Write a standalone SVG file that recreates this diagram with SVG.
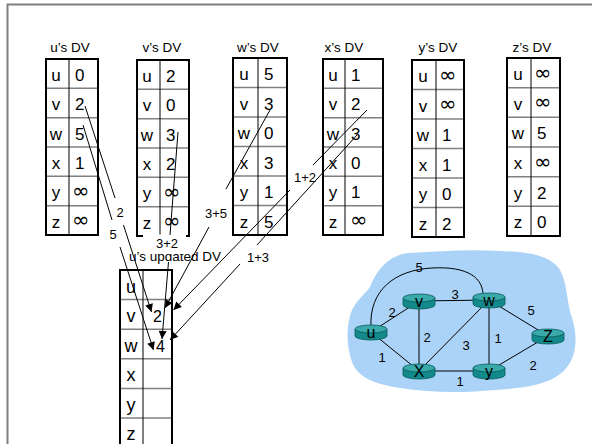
<svg xmlns="http://www.w3.org/2000/svg" xmlns:xlink="http://www.w3.org/1999/xlink" width="592" height="444" viewBox="0 0 592 444">
<style>
text{font-family:"Liberation Sans",Arial,sans-serif;fill:#000}
.title{font-size:13.5px;text-anchor:middle}
.cell{font-size:17px}
.key{text-anchor:middle}
.inf{font-family:"DejaVu Sans",sans-serif;font-size:21px}
.ucell{font-size:18px}
.lbl{font-size:13px;text-anchor:middle}
.elbl{font-size:13px;text-anchor:middle}
.nlbl{font-size:16px;text-anchor:middle}
.outer{fill:none;stroke:#000;stroke-width:2}
.rowline{stroke:#808080;stroke-width:1.5}
.colline{stroke:#000;stroke-width:1}
.conn{stroke:#000;stroke-width:1;fill:none}
.edge{stroke:#000;stroke-width:1;fill:none}
</style>
<defs>
<marker id="ah" viewBox="0 0 10 10" refX="10" refY="5" markerWidth="10" markerHeight="8" markerUnits="userSpaceOnUse" orient="auto"><path d="M0,0 L10,5 L0,10 z" fill="#000"/></marker>
<g id="cyl">
<path d="M-16,-3 v7 a16,4 0 0 0 32,0 v-7 z" fill="#12898a" stroke="#0a5a5a" stroke-width="0.8"/>
<ellipse cx="0" cy="-3" rx="16" ry="4" fill="#3aa9aa" stroke="#0a5a5a" stroke-width="0.8"/>
</g>
</defs>
<rect width="592" height="444" fill="#fff"/>
<path d="M7.5,444 V4.5 H592" fill="none" stroke="#7f7f7f" stroke-width="2"/>

<g id="table-u">
<text class="title" x="70" y="52">u’s DV</text>
<line class="rowline" x1="46" y1="88.3" x2="98" y2="88.3"/><line class="rowline" x1="46" y1="117.7" x2="98" y2="117.7"/><line class="rowline" x1="46" y1="147" x2="98" y2="147"/><line class="rowline" x1="46" y1="176.3" x2="98" y2="176.3"/><line class="rowline" x1="46" y1="205.7" x2="98" y2="205.7"/>
<line class="colline" x1="69" y1="59" x2="69" y2="235"/>
<rect class="outer" x="46" y="59" width="52" height="176"/>
<g class="cell"><text class="key" x="56" y="81">u</text><text class="key" x="56" y="110.3">v</text><text class="key" x="56" y="139.7">w</text><text class="key" x="56" y="169">x</text><text class="key" x="56" y="198.3">y</text><text class="key" x="56" y="227.7">z</text>
<text x="75" y="81">0</text><text x="75" y="110.3">2</text><text x="75" y="139.7">5</text><text x="75" y="169">1</text><text class="inf" x="72" y="198">∞</text><text class="inf" x="72" y="227.3">∞</text></g>
</g>

<g id="table-v">
<text class="title" x="162" y="52">v’s DV</text>
<line class="rowline" x1="137" y1="89.3" x2="189" y2="89.3"/><line class="rowline" x1="137" y1="118.7" x2="189" y2="118.7"/><line class="rowline" x1="137" y1="148" x2="189" y2="148"/><line class="rowline" x1="137" y1="177.3" x2="189" y2="177.3"/><line class="rowline" x1="137" y1="206.7" x2="189" y2="206.7"/>
<line class="colline" x1="160" y1="60" x2="160" y2="236"/>
<rect class="outer" x="137" y="60" width="52" height="176"/>
<g class="cell"><text class="key" x="147" y="82">u</text><text class="key" x="147" y="111.3">v</text><text class="key" x="147" y="140.7">w</text><text class="key" x="147" y="170">x</text><text class="key" x="147" y="199.3">y</text><text class="key" x="147" y="228.7">z</text>
<text x="166" y="82">2</text><text x="166" y="111.3">0</text><text x="166" y="140.7">3</text><text x="166" y="170">2</text><text class="inf" x="163" y="199">∞</text><text class="inf" x="163" y="228.3">∞</text></g>
</g>

<g id="table-w">
<text class="title" x="258" y="52">w’s DV</text>
<line class="rowline" x1="233" y1="87.5" x2="287" y2="87.5"/><line class="rowline" x1="233" y1="117" x2="287" y2="117"/><line class="rowline" x1="233" y1="146.5" x2="287" y2="146.5"/><line class="rowline" x1="233" y1="176" x2="287" y2="176"/><line class="rowline" x1="233" y1="205.5" x2="287" y2="205.5"/>
<line class="colline" x1="258" y1="58" x2="258" y2="235"/>
<rect class="outer" x="233" y="58" width="54" height="177"/>
<g class="cell"><text class="key" x="244" y="80">u</text><text class="key" x="244" y="109.5">v</text><text class="key" x="244" y="139">w</text><text class="key" x="244" y="168.5">x</text><text class="key" x="244" y="198">y</text><text class="key" x="244" y="227.5">z</text>
<text x="264" y="80">5</text><text x="264" y="109.5">3</text><text x="264" y="139">0</text><text x="264" y="168.5">3</text><text x="264" y="198">1</text><text x="264" y="227.5">5</text></g>
</g>

<g id="table-x">
<text class="title" x="344" y="52">x’s DV</text>
<line class="rowline" x1="323" y1="88.3" x2="383" y2="88.3"/><line class="rowline" x1="323" y1="117.7" x2="383" y2="117.7"/><line class="rowline" x1="323" y1="147" x2="383" y2="147"/><line class="rowline" x1="323" y1="176.3" x2="383" y2="176.3"/><line class="rowline" x1="323" y1="205.7" x2="383" y2="205.7"/>
<line class="colline" x1="345" y1="59" x2="345" y2="235"/>
<rect class="outer" x="323" y="59" width="60" height="176"/>
<g class="cell"><text class="key" x="333" y="81">u</text><text class="key" x="333" y="110.3">v</text><text class="key" x="333" y="139.7">w</text><text class="key" x="333" y="169">x</text><text class="key" x="333" y="198.3">y</text><text class="key" x="333" y="227.7">z</text>
<text x="351" y="81">1</text><text x="351" y="110.3">2</text><text x="351" y="139.7">3</text><text x="351" y="169">0</text><text x="351" y="198.3">1</text><text class="inf" x="350" y="227.3">∞</text></g>
</g>

<g id="table-y">
<text class="title" x="438" y="52">y’s DV</text>
<line class="rowline" x1="412" y1="89.5" x2="464" y2="89.5"/><line class="rowline" x1="412" y1="119" x2="464" y2="119"/><line class="rowline" x1="412" y1="148.5" x2="464" y2="148.5"/><line class="rowline" x1="412" y1="178" x2="464" y2="178"/><line class="rowline" x1="412" y1="207.5" x2="464" y2="207.5"/>
<line class="colline" x1="436" y1="60" x2="436" y2="237"/>
<rect class="outer" x="412" y="60" width="52" height="177"/>
<g class="cell"><text class="key" x="423" y="82">u</text><text class="key" x="423" y="111.5">v</text><text class="key" x="423" y="141">w</text><text class="key" x="423" y="170.5">x</text><text class="key" x="423" y="200">y</text><text class="key" x="423" y="229.5">z</text>
<text class="inf" x="439" y="81.5">∞</text><text class="inf" x="439" y="111">∞</text><text x="442" y="141">1</text><text x="442" y="170.5">1</text><text x="442" y="200">0</text><text x="442" y="229.5">2</text></g>
</g>

<g id="table-z">
<text class="title" x="532" y="52">z’s DV</text>
<line class="rowline" x1="507" y1="87.7" x2="560" y2="87.7"/><line class="rowline" x1="507" y1="117.3" x2="560" y2="117.3"/><line class="rowline" x1="507" y1="147" x2="560" y2="147"/><line class="rowline" x1="507" y1="176.7" x2="560" y2="176.7"/><line class="rowline" x1="507" y1="206.3" x2="560" y2="206.3"/>
<line class="colline" x1="531" y1="58" x2="531" y2="236"/>
<rect class="outer" x="507" y="58" width="53" height="178"/>
<g class="cell"><text class="key" x="518" y="80">u</text><text class="key" x="518" y="109.7">v</text><text class="key" x="518" y="139.3">w</text><text class="key" x="518" y="169">x</text><text class="key" x="518" y="198.7">y</text><text class="key" x="518" y="228.3">z</text>
<text class="inf" x="534" y="79.5">∞</text><text class="inf" x="534" y="109.2">∞</text><text x="537" y="139.3">5</text><text class="inf" x="534" y="168.5">∞</text><text x="537" y="198.7">2</text><text x="537" y="228.3">0</text></g>
</g>

<g id="table-u-updated">
<text class="title" x="175" y="260.5">u’s updated DV</text>
<line class="rowline" x1="120" y1="299.6" x2="172" y2="299.6"/><line class="rowline" x1="120" y1="329.2" x2="172" y2="329.2"/><line class="rowline" x1="120" y1="358.8" x2="172" y2="358.8"/><line class="rowline" x1="120" y1="388.4" x2="172" y2="388.4"/><line class="rowline" x1="120" y1="418" x2="172" y2="418"/>
<line class="colline" x1="143" y1="270" x2="143" y2="446"/>
<rect class="outer" x="120" y="270" width="52" height="178"/>
<g class="ucell"><text class="key" x="131" y="292.5">u</text><text class="key" x="131" y="322">v</text><text class="key" x="131" y="351.5">w</text><text class="key" x="131" y="381">x</text><text class="key" x="131" y="410.5">y</text><text class="key" x="131" y="440">z</text></g>
<g style="font-size:16px"><text x="153" y="322">2</text><text x="156" y="351.5">4</text></g>
</g>

<rect x="143" y="234.5" width="43" height="19.5" fill="#fff"/>

<g id="connectors">
<line class="conn" x1="85" y1="106" x2="115" y2="198"/>
<line class="conn" x1="123.5" y1="225" x2="151.5" y2="312" marker-end="url(#ah)"/>
<line class="conn" x1="83" y1="125" x2="112" y2="220"/>
<line class="conn" x1="120" y1="247" x2="153.5" y2="350" marker-end="url(#ah)"/>
<line class="conn" x1="178" y1="132" x2="170" y2="235"/>
<line class="conn" x1="168.5" y1="262" x2="162" y2="339" marker-end="url(#ah)"/>
<line class="conn" x1="270" y1="110" x2="226" y2="189"/>
<line class="conn" x1="209" y1="227" x2="165" y2="308" marker-end="url(#ah)"/>
<line class="conn" x1="367" y1="110" x2="313" y2="165"/>
<line class="conn" x1="290" y1="190" x2="173.5" y2="310" marker-end="url(#ah)"/>
<line class="conn" x1="357" y1="135" x2="257" y2="245"/>
<line class="conn" x1="240" y1="264" x2="170" y2="340" marker-end="url(#ah)"/>
<text class="lbl" x="120" y="216.5">2</text>
<text class="lbl" x="113" y="239">5</text>
<text class="lbl" x="167" y="248">3+2</text>
<text class="lbl" x="216" y="217.5">3+5</text>
<text class="lbl" x="305" y="181.5">1+2</text>
<text class="lbl" x="258" y="261.5">1+3</text>
</g>

<g id="network">
<path d="M370,287 C378,266 392,254 410,253 C440,251 470,249 500,251 C525,252 550,254 560,270 C568,285 566,300 572,318 C579,340 576,362 560,374 C545,386 520,388 495,390 C465,393 430,393 400,388 C375,384 358,378 352,362 C346,345 346,325 352,310 C357,300 364,295 370,287 Z" fill="#aad3f7"/>
<g id="edges">
<path class="edge" d="M371,327 C369,290 395,270 432,268 C468,266 484,278 483,297"/>
<line class="edge" x1="371" y1="332" x2="419" y2="301"/>
<line class="edge" x1="371" y1="332" x2="419" y2="371"/>
<line class="edge" x1="419" y1="301" x2="489" y2="300"/>
<line class="edge" x1="419" y1="301" x2="419" y2="371"/>
<line class="edge" x1="419" y1="371" x2="489" y2="300"/>
<line class="edge" x1="489" y1="300" x2="489" y2="371"/>
<line class="edge" x1="489" y1="300" x2="548" y2="336"/>
<line class="edge" x1="419" y1="371" x2="489" y2="371"/>
<line class="edge" x1="489" y1="371" x2="548" y2="336"/>
<text class="elbl" x="419" y="271.5">5</text>
<text class="elbl" x="455" y="298.5">3</text>
<text class="elbl" x="392" y="316.5">2</text>
<text class="elbl" x="427" y="341.5">2</text>
<text class="elbl" x="466" y="349.5">3</text>
<text class="elbl" x="498" y="342.5">1</text>
<text class="elbl" x="531" y="314.5">5</text>
<text class="elbl" x="382" y="361.5">1</text>
<text class="elbl" x="460" y="385.5">1</text>
<text class="elbl" x="533" y="369.5">2</text>
</g>
<g id="node-u"><use xlink:href="#cyl" x="371" y="332"/><text class="nlbl" x="371" y="338">u</text></g>
<g id="node-v"><use xlink:href="#cyl" x="419" y="301"/><text class="nlbl" x="419" y="307">v</text></g>
<g id="node-w"><use xlink:href="#cyl" x="489" y="300"/><text class="nlbl" x="489" y="306">w</text></g>
<g id="node-z"><use xlink:href="#cyl" x="548" y="336"/><text class="nlbl" x="548" y="342">Z</text></g>
<g id="node-x"><use xlink:href="#cyl" x="419" y="371"/><text class="nlbl" x="419" y="377">X</text></g>
<g id="node-y"><use xlink:href="#cyl" x="489" y="371"/><text class="nlbl" x="489" y="377">y</text></g>
</g>
</svg>
